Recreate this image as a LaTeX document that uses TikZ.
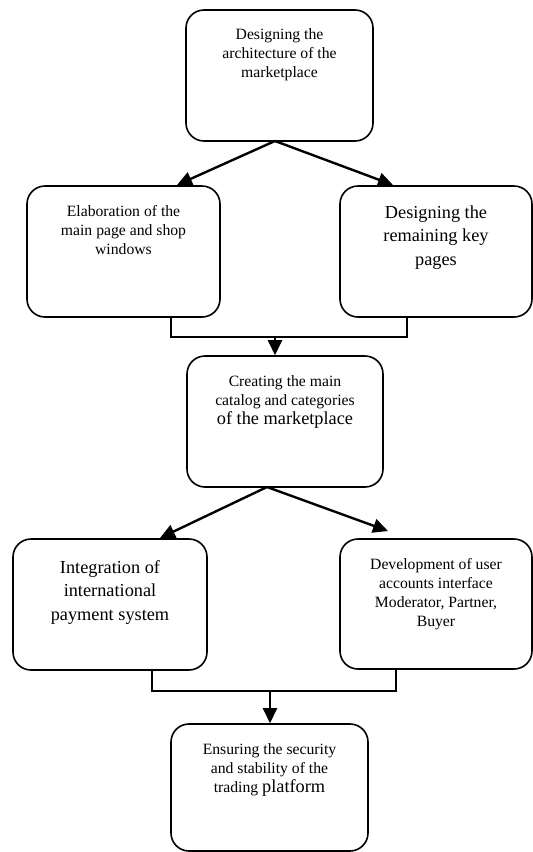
\documentclass[tikz,border=0pt]{standalone}
\usepackage{fontspec}
\setmainfont{Liberation Serif}
\usetikzlibrary{arrows.meta,positioning}
\newcommand{\lrg}{\fontsize{18.3}{23}\selectfont}

\begin{document}
\begin{tikzpicture}[x=1pt, y=-1pt,
  box/.style={draw, line width=1.6pt, rounded corners=18pt},
  txt/.style={align=center, inner sep=0pt, font=\fontsize{15.7}{19}\selectfont},
  bigtxt/.style={align=center, inner sep=0pt, font=\fontsize{18.3}{23.5}\selectfont},
  link/.style={line width=1.5pt},
  arr/.style={line width=2.4pt, -{Triangle[length=15pt,width=14pt]}}]
\useasboundingbox (0,0) rectangle (533,852);

% Boxes
\node[box, minimum width=187pt, minimum height=131pt] (arch) at (279.5,75.5) {};
\node[box, minimum width=193pt, minimum height=131pt] (mainpage) at (123.5,251.5) {};
\node[box, minimum width=192pt, minimum height=131pt] (keypages) at (436,251.5) {};
\node[box, minimum width=196pt, minimum height=131pt] (catalog) at (285,421.5) {};
\node[box, minimum width=194pt, minimum height=131pt] (payment) at (110,604.5) {};
\node[box, minimum width=192pt, minimum height=130pt] (accounts) at (436,604) {};
\node[box, minimum width=197pt, minimum height=127pt] (security) at (269.5,787.5) {};

% Texts
\node[txt, below=19pt of arch.north] (archtxt) {Designing the\\architecture of the\\marketplace};
\node[txt, below=20pt of mainpage.north] (mainpagetxt) {Elaboration of the\\main page and shop\\windows};
\node[bigtxt, below=20pt of keypages.north] (keypagestxt) {Designing the\\remaining key\\pages};
\node[txt, below=20pt of catalog.north] (catalogtxt) {Creating the main\\catalog and categories\\{\lrg of the marketplace}};
\node[bigtxt, below=22pt of payment.north] (paymenttxt) {Integration of\\international\\payment system};
\node[txt, below=20pt of accounts.north] (accountstxt) {Development of user\\accounts interface\\Moderator, Partner,\\Buyer};
\node[txt, below=20pt of security.north] (securitytxt) {Ensuring the security\\and stability of the\\trading {\lrg platform}};

% Split arrows
\coordinate (split1) at (275,141);
\coordinate (tipA) at (177,185);
\coordinate (tipB) at (393,185);
\draw[arr] (split1) -- (tipA);
\draw[arr] (split1) -- (tipB);

\coordinate (split2) at (267,487);
\coordinate (tipC) at (160,538);
\coordinate (tipD) at (388,531);
\draw[arr] (split2) -- (tipC);
\draw[arr] (split2) -- (tipD);

% Joins
\coordinate (join1) at (275,337);
\draw[link] ([xshift=47.5pt]mainpage.south) |- (join1) -| ([xshift=-29pt]keypages.south);
\draw[arr] (join1) -- (join1 |- catalog.north);

\coordinate (join2) at (270,691);
\draw[link] ([xshift=42pt]payment.south) |- (join2) -| ([xshift=-40pt]accounts.south);
\draw[arr] (join2) -- (join2 |- security.north);
\end{tikzpicture}
\end{document}
